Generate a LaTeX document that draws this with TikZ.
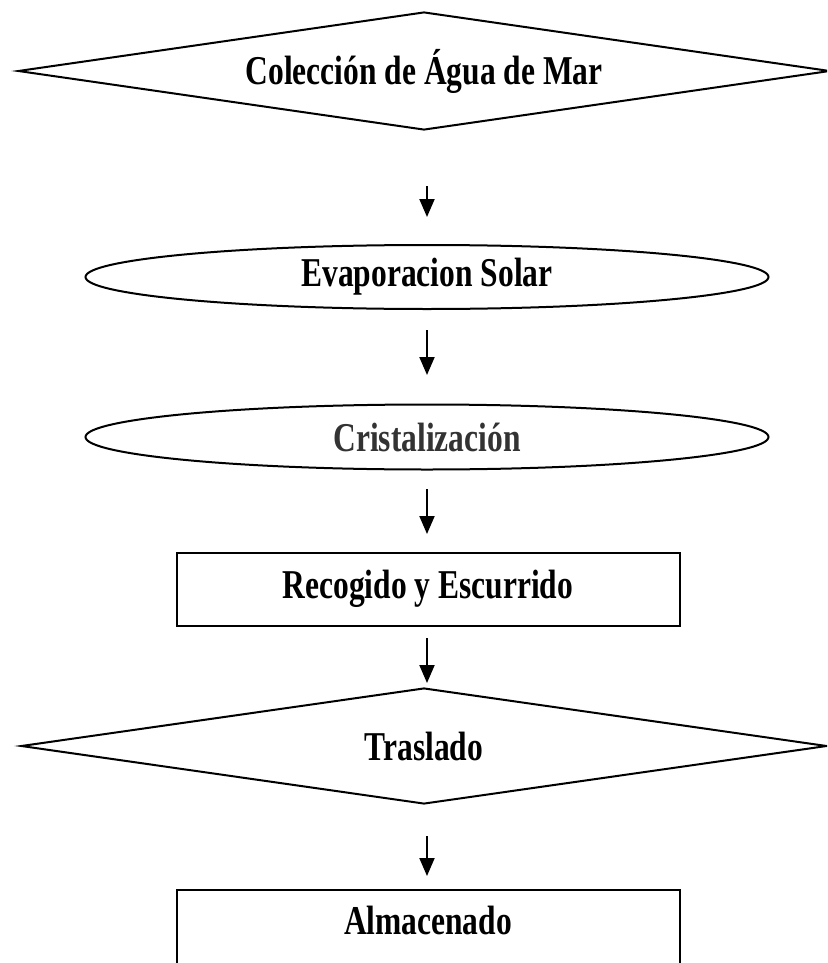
\documentclass[tikz,border=0pt]{standalone}
\usepackage{fontspec}
\usepackage{graphicx}
\setmainfont{Liberation Serif}
\usetikzlibrary{shapes.geometric,arrows.meta}
\tikzset{
  lbl/.style={font=\fontsize{31.5}{36}\selectfont\bfseries, inner sep=0pt},
  dia/.style={draw, line width=2pt, diamond, aspect=6.9, inner sep=0pt, lbl},
  ell/.style={draw, line width=2pt, ellipse, inner sep=0pt, lbl},
  box/.style={draw, line width=2pt, rectangle, inner sep=0pt, lbl},
  arr/.style={line width=2pt, -{Triangle[length=18pt,width=15pt]}}
}
\newcommand{\tall}[1]{\scalebox{1}[1.3]{#1}}
\begin{document}
\begin{tikzpicture}[x=1pt,y=-1pt]
\useasboundingbox (0,0) rectangle (827,963);
\clip (0,0) rectangle (827,963);
\coordinate (ax) at (427,0);
\node[dia, minimum width=812pt, minimum height=118pt] (d1) at (424,71) {\tall{Colección de Água de Mar}};
\node[ell, minimum width=683pt, minimum height=64pt] (e1) at (427,277) {\tall{Evaporacion Solar}};
\node[ell, minimum width=683pt, minimum height=65pt, text=black!80] (e2) at (427,437) {\tall{Cristalización}};
\node[box, minimum width=503pt, minimum height=73pt] (r1) at (428,589) {\tall{Recogido y Escurrido}};
\node[dia, minimum width=806pt, minimum height=116pt] (d2) at (424,746) {\tall{Traslado}};
\node[box, minimum width=503pt, minimum height=100pt] (r2) at (428,940) {};
\node[lbl] (t2) at (428,920) {\tall{Almacenado}};
\draw[arr] ([yshift=-55pt]d1.south -| ax) -- ([yshift=27pt]e1.north -| ax);
\draw[arr] ([yshift=-20pt]e1.south -| ax) -- ([yshift=28.5pt]e2.north -| ax);
\draw[arr] ([yshift=-18.5pt]e2.south -| ax) -- ([yshift=17.5pt]r1.north -| ax);
\draw[arr] ([yshift=-11.5pt]r1.south -| ax) -- ([yshift=4pt]d2.north -| ax);
\draw[arr] ([yshift=-31pt]d2.south -| ax) -- ([yshift=13pt]r2.north -| ax);
\end{tikzpicture}
\end{document}
